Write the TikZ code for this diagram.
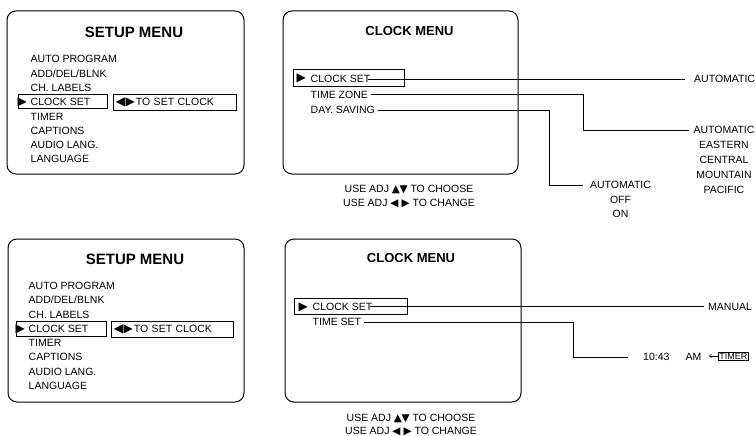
\documentclass[tikz,border=0pt]{standalone}
\usepackage{fontspec}
\setmainfont{Liberation Sans}
\newfontfamily\symfont{DejaVu Sans}
\usepackage{tikz}
\usetikzlibrary{arrows.meta, positioning}
\newcommand{\rtri}{{\symfont\fontsize{12}{10}\selectfont ▶}}
\newcommand{\lrtri}{{\symfont\fontsize{12}{10}\selectfont ◀\kern0.5pt▶}}
\newcommand{\udtri}{{\symfont\fontsize{10.5}{10}\selectfont ▲\kern-0.5pt▼}}
\newcommand{\lrsep}{{\symfont\fontsize{10.5}{10}\selectfont ◀\hspace{3pt}▶}}

\begin{document}
\begin{tikzpicture}[x=1pt, y=-1pt,
  menubox/.style={draw, line width=1pt, rounded corners=9pt},
  title/.style={font=\fontsize{15}{16}\selectfont\bfseries},
  subtitle/.style={font=\fontsize{13}{14}\selectfont\bfseries},
  item/.style={anchor=west, inner sep=0.5pt, font=\fontsize{10.5}{12}\selectfont},
  choice/.style={inner ysep=0.5pt, inner xsep=4pt, font=\fontsize{10.5}{12}\selectfont},
  hint/.style={font=\fontsize{10.5}{12}\selectfont},
  selbox/.style={draw, line width=0.8pt, inner sep=0pt, anchor=west},
  ptr/.style={anchor=west, inner sep=0pt},
  link/.style={line width=0.7pt}]
  \useasboundingbox (0,0) rectangle (756,436);

  % top setup menu
  \draw[menubox] (7,11) rectangle (244,174);
  \node[title] (setupA) at (134,32) {SETUP MENU};
  \node[item] (autoA) at (30,59) {AUTO PROGRAM};
  \node[item] (addA) at (30,73.5) {ADD/DEL/BLNK};
  \node[item] (labelsA) at (30,88) {CH. LABELS};
  \node[item] (clockA) at (30,102) {CLOCK SET};
  \node[item] (timerA) at (30,116.5) {TIMER};
  \node[item] (captA) at (30,130.5) {CAPTIONS};
  \node[item] (audioA) at (30,145) {AUDIO LANG.};
  \node[item] (langA) at (30,159) {LANGUAGE};
  \node[selbox, minimum width=89, minimum height=14.5] (clockselA) at (18,101.5) {};
  \node[ptr] (ptrA) at (17.5,102.5) {\rtri};
  \node[selbox, minimum width=123, minimum height=16, text width=118, inner xsep=2.5pt, align=left,
    font=\fontsize{10.5}{12}\selectfont] (setclockA) at (113,102) {\lrtri\kern1pt TO SET CLOCK};

  % top clock menu
  \draw[menubox] (283,11) rectangle (518,174);
  \node[subtitle] (clockmenuB) at (409.5,31) {CLOCK MENU};
  \node[selbox, minimum width=111, minimum height=17] (clockselB) at (293,77.5) {};
  \node[ptr] (ptrB) at (296.5,78.5) {\rtri};
  \node[item] (clockB) at (310,79) {CLOCK SET};
  \node[item] (zoneB) at (310,94.5) {TIME ZONE};
  \node[item] (savingB) at (310,110) {DAY. SAVING};
  \node[hint] (chooseB) at (409,189) {USE ADJ \udtri\ TO CHOOSE};
  \node[hint] (changeB) at (409,203.5) {USE ADJ \lrsep\ TO CHANGE};

  % top choices
  \node[choice, anchor=west] (clockautoB) at (690,79) {AUTOMATIC};
  \node[choice] (zoneautoB) at (724,129.5) {AUTOMATIC};
  \node[choice] (easternB) at (724,145) {EASTERN};
  \node[choice] (centralB) at (724,160) {CENTRAL};
  \node[choice] (mountainB) at (724,175) {MOUNTAIN};
  \node[choice] (pacificB) at (724,190) {PACIFIC};
  \node[choice] (savingautoB) at (620.5,184.5) {AUTOMATIC};
  \node[choice] (offB) at (620.5,199.5) {OFF};
  \node[choice] (onB) at (620.5,214) {ON};

  \coordinate (zonebendB) at (583,0);
  \coordinate (savingbendB) at (549,0);
  \draw[link, shorten >=5pt] ([xshift=-2.5pt]clockB.east) -- (clockautoB.west);
  \draw[link] ([xshift=2pt]zoneB.east) -- (zoneB.east -| zonebendB) |- ([yshift=-1pt]zoneautoB.west);
  \draw[link, shorten >=3pt] ([xshift=2pt]savingB.east) -- (savingB.east -| savingbendB) |- ([yshift=-1pt]savingautoB.west);

  % bottom setup menu
  \draw[menubox] (8,239) rectangle (244,402);
  \node[title] (setupC) at (135,259) {SETUP MENU};
  \node[item] (autoC) at (28,286) {AUTO PROGRAM};
  \node[item] (addC) at (28,300) {ADD/DEL/BLNK};
  \node[item] (labelsC) at (28,314.5) {CH. LABELS};
  \node[item] (clockC) at (28,328.5) {CLOCK SET};
  \node[item] (timerC) at (28,343) {TIMER};
  \node[item] (captC) at (28,357) {CAPTIONS};
  \node[item] (audioC) at (28,371.5) {AUDIO LANG.};
  \node[item] (langC) at (28,386) {LANGUAGE};
  \node[selbox, minimum width=90, minimum height=15] (clockselC) at (16,328.5) {};
  \node[ptr] (ptrC) at (15.5,329.5) {\rtri};
  \node[selbox, minimum width=122, minimum height=16, text width=117, inner xsep=2.5pt, align=left,
    font=\fontsize{10.5}{12}\selectfont] (setclockC) at (111,329) {\lrtri\kern1pt TO SET CLOCK};

  % bottom clock menu
  \draw[menubox] (285,239) rectangle (521,402);
  \node[subtitle] (clockmenuD) at (411,258) {CLOCK MENU};
  \node[selbox, minimum width=113, minimum height=16] (clockselD) at (294,306) {};
  \node[ptr] (ptrD) at (298.5,307) {\rtri};
  \node[item] (clockD) at (312,306.5) {CLOCK SET};
  \node[item] (tsetD) at (312,322) {TIME SET};
  \node[hint] (chooseD) at (411,418) {USE ADJ \udtri\ TO CHOOSE};
  \node[hint] (changeD) at (411,431.5) {USE ADJ \lrsep\ TO CHANGE};

  % bottom choices
  \node[choice, anchor=west] (manualD) at (704,306.5) {MANUAL};
  \node[choice, anchor=west] (timeD) at (639,357) {10:43};
  \node[choice] (amD) at (693.5,357) {AM};
  \node[draw, line width=0.7pt, inner sep=1pt, anchor=west,
    font=\fontsize{9}{10}\selectfont] (timerD) at (718,356) {TIMER};
  \coordinate (tipD) at (709,0);
  \coordinate (tsetbendD) at (573,0);

  \draw[link] ([xshift=-2.5pt]clockD.east) -- (manualD.west);
  \draw[link, shorten >=11pt] ([xshift=2pt]tsetD.east) -- (tsetD.east -| tsetbendD) |- (timeD.west);
  \draw[line width=0.6pt, -{Straight Barb[length=2pt, width=4pt]}] (timerD.west) -- (timerD.west -| tipD);
\end{tikzpicture}
\end{document}
